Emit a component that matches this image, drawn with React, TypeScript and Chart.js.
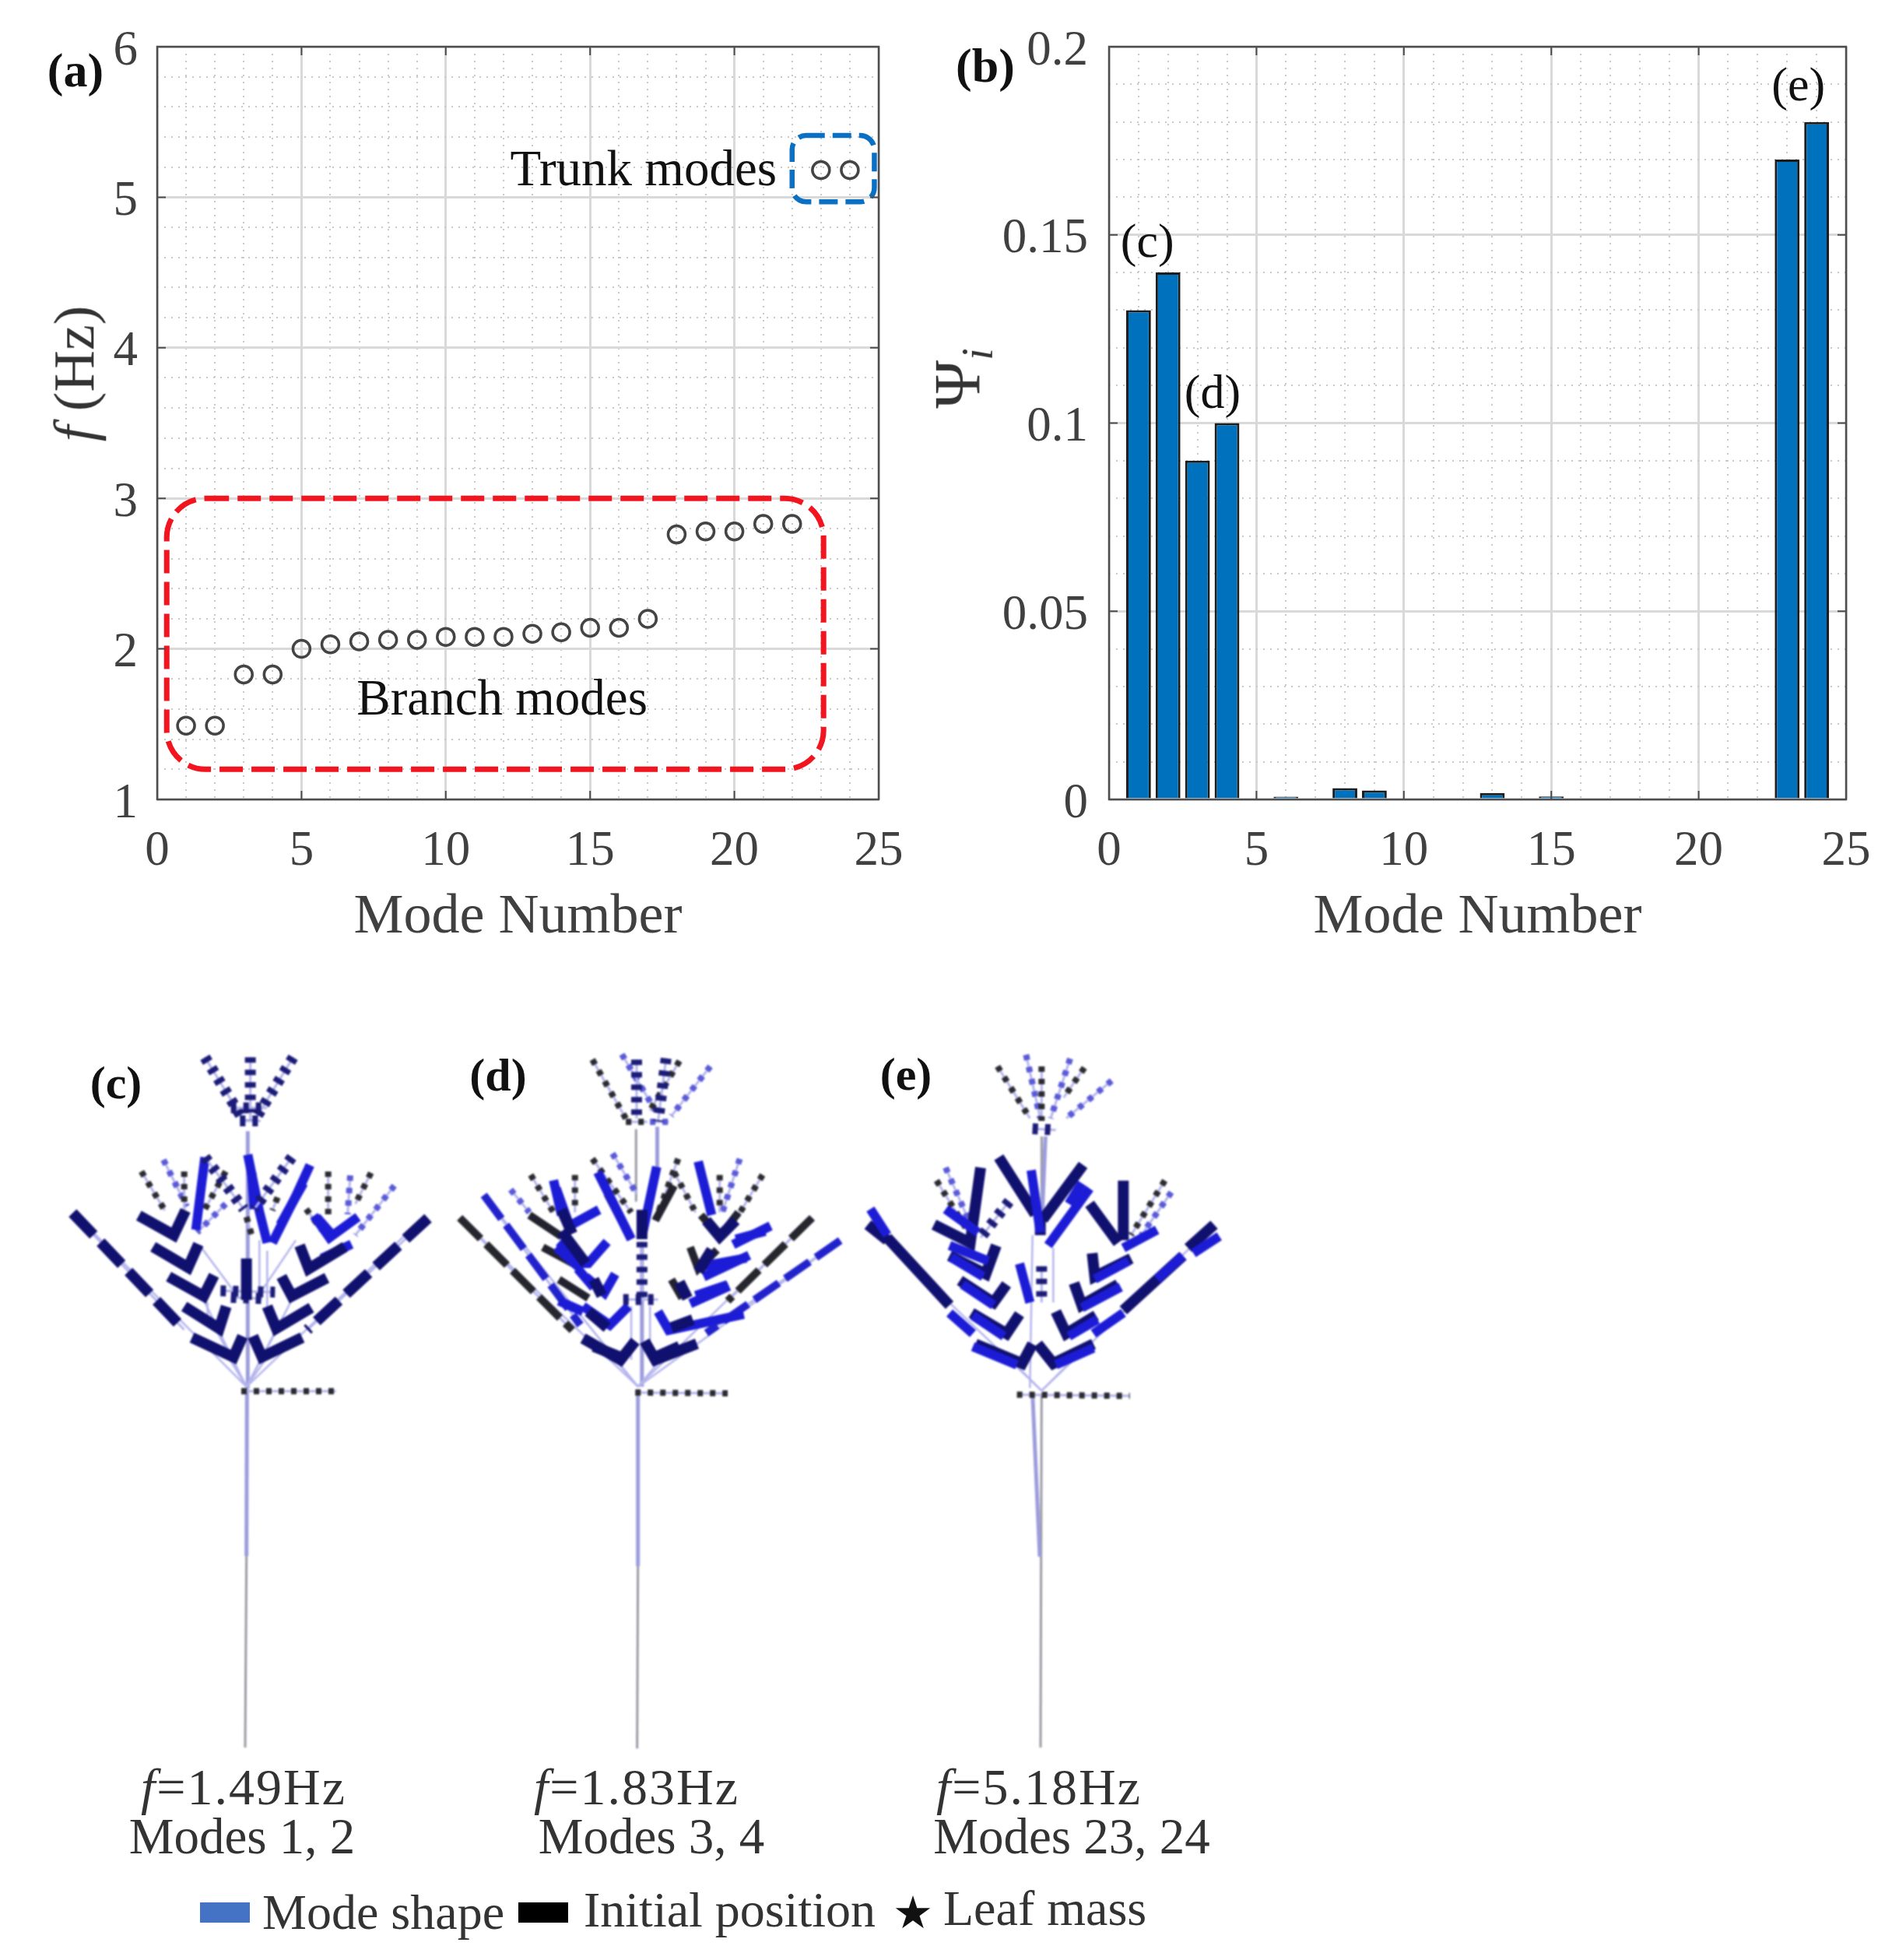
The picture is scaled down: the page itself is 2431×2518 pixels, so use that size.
import React, { useEffect, useRef } from "react";
import { Chart, registerables } from "chart.js";

Chart.register(...registerables);

// ---------- panel (a) data ----------
const modeNumbers = [1,2,3,4,5,6,7,8,9,10,11,12,13,14,15,16,17,18,19,20,21,22,23,24];
const frequencies = [1.49,1.49,1.83,1.83,2.0,2.03,2.05,2.06,2.06,2.08,2.08,2.08,2.10,2.11,2.14,2.14,2.20,2.76,2.78,2.78,2.83,2.83,5.18,5.18];
// ---------- panel (b) data ----------
const participation = [0.13,0.14,0.09,0.10,0,0.0007,0,0.003,0.0024,0,0,0,0.0017,0,0.0008,0,0,0,0,0,0,0,0.17,0.18];
const xMajorTicks = [0,5,10,15,20,25];
const yMajorTicksA = [1,2,3,4,5,6];
const yLabelsB: Record<string,string> = { "0":"0","5":"0.05","10":"0.1","15":"0.15","20":"0.2" };

// ---------- tree (c): polylines as x,y,x,y in crop units ----------
const treeCStems = [[770,1385,110,720],[770,1385,1450,735],[770,1385,700,1270],[770,1385,850,1270],[770,1385,650,1160],[770,1385,890,1160],[770,1385,600,1040],[770,1385,950,1040],[735,1035,590,840],[815,1035,960,820],[820,820,820,1040],[850,860,850,1100],[620,1060,620,1150]];
const treeCTrunk = [[775,400,775,1390],[772,1390,770,2037]];
const treeCTrunkLow = [[770,2037,765,2775]];
const treeCMain = [[100,715,530,1165],[1470,735,1005,1165]];
const treeCChevrons = [[560,1195,720,1270,755,1190],[530,1075,665,1160,692,1075],[470,960,605,1035,645,955],[410,845,545,925,585,835],[355,725,490,800,535,705],[985,1195,830,1270,795,1190],[1020,1080,885,1160,850,1075],[1080,965,945,1035,905,960],[1150,845,1010,930,975,840],[770,890,770,1050]];
const treeCBlue = [[775,490,820,710,850,830],[790,560,800,700],[1015,530,960,650,870,830],[990,600,900,760],[610,500,575,780],[1200,730,1090,810,1030,725],[1175,835,1060,890],[1040,730,1110,810]];
const treeCDotsNavy = [[610,115,760,360],[785,115,785,360],[950,115,800,360],[610,500,760,700],[945,500,800,700],[745,360,825,360],[710,310,850,310],[670,1015,880,1020],[710,1040,830,1045]];
const treeCDotsBlack = [[365,555,455,705],[530,555,530,700],[690,555,610,700],[1085,555,1085,720],[1250,560,1190,680],[890,655,870,705],[1000,700,1060,780],[770,730,790,800],[750,1402,1115,1402]];
const treeCDotsLilac = [[450,510,540,690],[690,680,580,790],[1340,610,1190,800],[1170,570,1160,720]];

// ---------- tree (d) ----------
const treeDStems = [[725,1340,60,710],[725,1340,1375,710],[725,1340,150,625],[725,1340,1480,795],[725,1340,640,1240],[725,1340,810,1240],[700,1040,700,1240],[770,1040,770,1240]];
const treeDTrunk = [[725,1350,725,2010],[797,370,797,550],[740,800,740,1340]];
const treeDTrunkLow = [[718,380,718,650],[725,2010,722,2690]];
const treeDBlackMain = [[60,710,480,1130],[1375,710,1060,1020]];
const treeDBlueMain = [[150,625,510,1110],[1480,795,980,1140]];
const treeDBlackThick = [[320,700,440,780],[370,820,500,890],[430,940,540,1010],[1100,690,1030,780,960,700],[920,820,950,900,1020,830],[850,940,890,1010],[610,620,700,790],[860,590,790,720]];
const treeDBlue = [[420,600,470,740,580,680],[410,570,440,700],[500,880,540,880,610,800],[530,930,600,990,640,920],[430,1020,520,1060],[520,1040,620,1110,690,1040],[1220,740,1080,810],[1140,850,970,930],[1065,965,920,1030],[1120,1070,840,1130,800,1060],[575,540,700,790],[795,520,740,780],[950,500,1000,700],[430,800,520,880],[420,820,510,900],[500,900,560,970],[940,1000,1060,960],[970,890,1130,860],[1090,790,1200,760]];
const treeDNavy = [[520,1160,660,1240,715,1170],[945,1180,790,1240,750,1170],[440,760,530,880],[980,720,1030,780,1090,720],[1000,830,950,910],[740,680,740,790],[560,940,590,1000],[880,950,910,1010],[540,1060,610,1120],[850,1120,930,1090],[440,680,480,770],[560,1190,660,1230],[880,1190,790,1230]];
const treeDDotsNavy = [[720,120,720,340],[830,115,800,350],[740,800,740,1020],[670,1015,800,1015]];
const treeDDotsBlack = [[555,120,680,340],[880,125,770,310],[325,550,410,690],[490,550,490,690],[555,490,700,690],[875,490,790,720],[1190,550,1100,700],[1030,550,1030,690],[860,540,940,690],[680,352,760,352],[715,1362,1060,1365]];
const treeDDotsLilac = [[665,100,790,310],[995,145,850,330],[250,605,320,690],[630,470,720,620],[1105,490,1040,690],[770,352,840,352]];

// ---------- tree (e) ----------
const treeEStems = [[745,1400,75,760],[745,1400,1410,760],[745,1400,640,1295],[745,1400,850,1295],[710,800,700,1390],[790,850,790,1060]];
const treeETrunk = [[760,420,745,780],[710,1410,738,2040]];
const treeETrunkLow = [[745,420,745,780],[745,1410,741,2775]];
const treeEBlackMain = [[75,760,150,820],[150,810,390,1070],[1410,760,1310,850],[1290,880,1060,1090]];
const treeEBlue = [[85,700,150,800],[390,1100,480,1180],[1430,805,1330,870],[1290,880,1190,970],[1060,1100,945,1180],[705,550,740,790],[660,910,700,1060],[1190,780,1060,850],[930,620,770,840],[375,700,500,790],[390,840,540,900],[395,885,520,960],[440,990,560,1070],[480,1110,600,1190],[480,1230,650,1300],[1050,1000,900,1080],[960,1125,850,1190],[945,1235,800,1300],[1080,900,950,970],[900,600,850,680]];
const treeENavy = [[490,1220,670,1295,710,1220],[945,1220,790,1295,730,1220],[475,1100,610,1180,660,1105],[955,1110,840,1180,800,1095],[430,975,560,1060,610,990],[1040,990,900,1070,870,985],[390,880,530,950,570,840],[1090,890,950,960,940,870],[330,760,470,830,510,540],[1060,590,1060,820],[930,680,1040,830],[580,500,720,720],[905,530,750,740],[740,720,740,800]];
const treeEDotsNavy = [[620,670,510,810],[745,920,745,1060],[710,390,800,395]];
const treeEDotsBlack = [[340,590,470,800],[1220,590,1090,800],[575,150,700,350],[745,150,745,360],[910,155,830,270],[650,1415,1085,1420]];
const treeEDotsLilac = [[375,540,480,780],[1245,635,1130,800],[685,105,740,350],[855,120,780,350],[1015,205,840,350]];

// ---------- text ----------
const captions = [
  { f: "=1.49Hz", modes: "Modes 1, 2", fx: 313, mx: 311 },
  { f: "=1.83Hz", modes: "Modes 3, 4", fx: 818, mx: 837 },
  { f: "=5.18Hz", modes: "Modes 23, 24", fx: 1335, mx: 1377 },
];
const legendItems = [
  { text: "Mode shape", left: 337, colour: "#4472c4", swatch: 257, top: 2420 },
  { text: "Initial position", left: 750, colour: "#000000", swatch: 666, top: 2417 },
];

// ---------- styles ----------
const LILAC = "#b4b4ee";
const NAVY = "#10106e";
const STY = {
  stem: { c: LILAC, w: 2.5 },
  trunk: { c: "#9c9cdc", w: 5 },
  trunkLow: { c: "#9a9aa6", w: 3 },
  main: { c: NAVY, w: 14, d: [39, 13] },
  blackMain: { c: "#26262e", w: 10, d: [38, 10] },
  blueMain: { c: "#2222cc", w: 10, d: [38, 10] },
  blackThick: { c: "#22222e", w: 10 },
  navy: { c: NAVY, w: 14 },
  blue: { c: "#1c1cd6", w: 12 },
  dotsNavy: { c: "#1b1b78", w: 14, d: [7, 9] },
  dotsBlack: { c: "#2a2a30", w: 8, d: [7, 9] },
  dotsLilac: { c: "#5a5ad8", w: 8, d: [7, 9] },
};

type Layer = [number[][], { c: string; w: number; d?: number[] }];

function layerDatasets(layers: Layer[]) {
  const out: any[] = [];
  for (const [lines, s] of layers) {
    for (const line of lines) {
      const pts: { x: number; y: number }[] = [];
      for (let i = 0; i < line.length; i += 2) pts.push({ x: line[i], y: line[i + 1] });
      if (s.d) out.push({ data: pts.slice(), borderColor: LILAC, borderWidth: 3, pointRadius: 0, tension: 0 });
      out.push({ data: pts, borderColor: s.c, borderWidth: s.w, borderDash: s.d || [], pointRadius: 0, tension: 0, borderCapStyle: "butt" });
    }
  }
  // Chart.js paints the first dataset last, so the list is turned round to keep layer order.
  return out.reverse();
}

const treeLayersC: Layer[] = [[treeCTrunkLow, STY.trunkLow],[treeCTrunk, STY.trunk],[treeCStems, STY.stem],[treeCDotsLilac, STY.dotsLilac],[treeCDotsBlack, STY.dotsBlack],[treeCBlue, STY.blue],[treeCDotsNavy, STY.dotsNavy],[treeCMain, STY.main],[treeCChevrons, STY.navy]];
const treeLayersD: Layer[] = [[treeDTrunkLow, STY.trunkLow],[treeDTrunk, STY.trunk],[treeDStems, STY.stem],[treeDBlackMain, STY.blackMain],[treeDBlueMain, STY.blueMain],[treeDDotsLilac, STY.dotsLilac],[treeDDotsBlack, STY.dotsBlack],[treeDBlackThick, STY.blackThick],[treeDBlue, STY.blue],[treeDDotsNavy, STY.dotsNavy],[treeDNavy, STY.navy]];
const treeLayersE: Layer[] = [[treeETrunkLow, STY.trunkLow],[treeETrunk, STY.trunk],[treeEStems, STY.stem],[treeEDotsLilac, STY.dotsLilac],[treeEDotsBlack, STY.dotsBlack],[treeEBlackMain, STY.navy],[treeENavy, STY.navy],[treeEBlue, STY.blue],[treeEDotsNavy, STY.dotsNavy]];

const SERIF = '"Liberation Serif", serif';
const TICK_COLOR = "#404040";
const TICK_FONT = { family: SERIF, size: 63, lineHeight: 1 };
const Y_LABEL_SHIFT = 6;
const X_LABEL_SHIFT = 16;

const framePlugin = {
  id: "frame",
  beforeDraw(chart: any) {
    const sy = chart.scales.y, sx = chart.scales.x;
    if (sy.__labelsShifted) return;
    sy.__labelsShifted = true;
    for (const item of sy.getLabelItems(chart.chartArea)) item.options.translation[1] += Y_LABEL_SHIFT;
    for (const item of sx.getLabelItems(chart.chartArea)) item.options.translation[1] += X_LABEL_SHIFT;
  },
  afterDatasetsDraw(chart: any, _a: any, opts: any) {
    const { ctx, chartArea: ca, scales } = chart;
    ctx.save();
    for (const b of opts.boxes || []) {
      const x0 = scales.x.getPixelForValue(b.x0), x1 = scales.x.getPixelForValue(b.x1);
      const y0 = scales.y.getPixelForValue(b.y0), y1 = scales.y.getPixelForValue(b.y1);
      ctx.beginPath();
      ctx.setLineDash(b.dash);
      ctx.strokeStyle = b.color;
      ctx.lineWidth = b.width;
      ctx.roundRect(x0, y0, x1 - x0, y1 - y0, b.radius);
      ctx.stroke();
    }
    ctx.setLineDash([]);
    ctx.strokeStyle = "#4d4d4d";
    ctx.lineWidth = 2;
    ctx.beginPath();
    for (const v of opts.xMajor) {
      const p = scales.x.getPixelForValue(v);
      ctx.moveTo(p, ca.bottom); ctx.lineTo(p, ca.bottom - 11);
      ctx.moveTo(p, ca.top); ctx.lineTo(p, ca.top + 11);
    }
    for (const v of opts.yMajor) {
      const p = scales.y.getPixelForValue(v);
      ctx.moveTo(ca.left, p); ctx.lineTo(ca.left + 11, p);
      ctx.moveTo(ca.right, p); ctx.lineTo(ca.right - 11, p);
    }
    ctx.stroke();
    ctx.lineWidth = 2.5;
    ctx.strokeRect(ca.left, ca.top, ca.right - ca.left, ca.bottom - ca.top);
    for (const n of opts.notes || []) {
      ctx.font = `${n.size}px ${SERIF}`;
      ctx.fillStyle = n.color || "#111";
      ctx.textAlign = "center";
      ctx.textBaseline = "middle";
      ctx.fillText(n.text, scales.x.getPixelForValue(n.x), scales.y.getPixelForValue(n.y));
    }
    ctx.restore();
  },
};

function gridFor(isMajor: (v: number) => boolean) {
  return {
    drawTicks: false,
    color: (c: any) => (isMajor(c.tick?.value) ? "#d9d9d9" : "#c9c9c9"),
    lineWidth: (c: any) => (isMajor(c.tick?.value) ? 3 : 2),
  };
}
function borderFor(isMajor: (v: number) => boolean) {
  return {
    display: false,
    dash: (c: any) => (isMajor(c.tick?.value) ? [] : [2, 7]),
  };
}

function xAxis() {
  const isMajor = (v: number) => xMajorTicks.includes(Math.round(v));
  return {
    type: "linear" as const,
    min: 0,
    max: 25,
    offset: false,
    grid: { ...gridFor(isMajor), offset: false },
    border: borderFor(isMajor),
    title: {
      display: true,
      text: "Mode Number",
      font: { family: SERIF, size: 72 },
      color: TICK_COLOR,
      padding: { top: 0, bottom: 28 },
    },
    ticks: {
      stepSize: 1,
      autoSkip: false,
      maxRotation: 0,
      padding: 20,
      color: TICK_COLOR,
      font: TICK_FONT,
      callback: (v: any) => (xMajorTicks.includes(v) ? String(v) : ""),
    },
    afterFit(s: any) { s.height = 223; },
  };
}

function useChart(ref: any, make: () => any) {
  useEffect(() => {
    const chart = new Chart(ref.current, make());
    return () => chart.destroy();
  }, []);
}

function Tree({ left, width, layers, xMax, yMax, height }: any) {
  const ref = useRef<HTMLCanvasElement>(null);
  useChart(ref, () => ({
    type: "line",
    data: { datasets: layerDatasets(layers) },
    options: {
      animation: false,
      responsive: false,
      devicePixelRatio: 1,
      layout: { padding: 0 },
      plugins: { legend: { display: false }, tooltip: { enabled: false } },
      scales: {
        x: { type: "linear", display: false, min: 0, max: xMax },
        y: { type: "linear", display: false, min: 0, max: yMax, reverse: true },
      },
    },
  }));
  return (
    <canvas ref={ref} width={width} height={height}
      style={{ position: "absolute", left, top: 1320, width, height, display: "block", filter: "blur(1.2px)" }} />
  );
}

function Txt({ x, y, size, children, bold, color, rotate }: any) {
  return (
    <div style={{
      position: "absolute", left: x, top: y, whiteSpace: "nowrap",
      transform: `translate(-50%,-50%)${rotate ? ` rotate(${rotate}deg)` : ""}`,
      font: `${bold ? "bold " : ""}${size}px ${SERIF}`, lineHeight: 1.1, color: color || "#333",
    }}>{children}</div>
  );
}

export default function App() {
  const aRef = useRef<HTMLCanvasElement>(null);
  const bRef = useRef<HTMLCanvasElement>(null);

  useChart(aRef, () => {
    const isMajorY = (v: number) => Math.abs(v - Math.round(v)) < 1e-6;
    return {
      type: "scatter",
      plugins: [framePlugin],
      data: {
        datasets: [{
          data: modeNumbers.map((m, i) => ({ x: m, y: frequencies[i] })),
          pointRadius: 11,
          pointBackgroundColor: "rgba(0,0,0,0)",
          pointBorderColor: "#444444",
          pointBorderWidth: 3.5,
          showLine: false,
        }],
      },
      options: {
        animation: false,
        responsive: false,
        devicePixelRatio: 1,
        layout: { padding: { top: 60, right: 71, left: 0, bottom: 0 } },
        scales: {
          x: xAxis(),
          y: {
            type: "linear", min: 1, max: 6,
            grid: gridFor(isMajorY),
            border: borderFor(isMajorY),
            ticks: {
              stepSize: 0.2, autoSkip: false, padding: 25, color: TICK_COLOR,
              font: TICK_FONT,
              callback: (v: any) => (isMajorY(v) ? String(Math.round(v)) : ""),
            },
            afterFit(s: any) { s.width = 202; },
          },
        },
        plugins: {
          legend: { display: false },
          tooltip: { enabled: false },
          frame: {
            xMajor: xMajorTicks,
            yMajor: yMajorTicksA,
            boxes: [
              { x0: 0.33, x1: 23.09, y0: 3.0, y1: 1.2, color: "#f2141e", width: 7, dash: [30, 11], radius: 50 },
              { x0: 22.0, x1: 24.85, y0: 5.41, y1: 4.97, color: "#0a70c4", width: 6.5, dash: [24, 10], radius: 18 },
            ],
            notes: [
              { text: "Trunk modes", x: 16.85, y: 5.17, size: 65 },
              { text: "Branch modes", x: 11.95, y: 1.65, size: 65 },
            ],
          },
        },
      },
    };
  });

  useChart(bRef, () => {
    const isMajorY = (v: number) => Math.round(v * 100) % 5 === 0;
    return {
      type: "bar",
      plugins: [framePlugin],
      data: {
        datasets: [{
          data: modeNumbers.map((m, i) => ({ x: m, y: participation[i] })),
          backgroundColor: "#0072bd",
          borderColor: "#1c1c1c",
          borderWidth: 3,
          barPercentage: 0.84,
          categoryPercentage: 1,
        }],
      },
      options: {
        animation: false,
        responsive: false,
        devicePixelRatio: 1,
        layout: { padding: { top: 60, right: 59, left: 0, bottom: 0 } },
        scales: {
          x: xAxis(),
          y: {
            type: "linear", min: 0, max: 0.2,
            grid: gridFor(isMajorY),
            border: borderFor(isMajorY),
            ticks: {
              stepSize: 0.01, autoSkip: false, padding: 27, color: TICK_COLOR,
              font: TICK_FONT,
              callback: (v: any) => yLabelsB[String(Math.round(v * 100))] ?? "",
            },
            afterFit(s: any) { s.width = 245; },
          },
        },
        plugins: {
          legend: { display: false },
          tooltip: { enabled: false },
          frame: {
            xMajor: xMajorTicks,
            yMajor: [0, 0.05, 0.1, 0.15, 0.2],
            notes: [
              { text: "(c)", x: 1.3, y: 0.1475, size: 62 },
              { text: "(d)", x: 3.51, y: 0.1075, size: 62 },
              { text: "(e)", x: 23.38, y: 0.189, size: 62 },
            ],
          },
        },
      },
    };
  });

  return (
    <div style={{ position: "absolute", left: 0, top: 0, width: 2431, height: 2518, background: "#fff", overflow: "hidden", filter: "blur(0.7px)" }}>
      <canvas ref={aRef} width={1200} height={1250} style={{ position: "absolute", left: 0, top: 0, display: "block" }} />
      <canvas ref={bRef} width={1251} height={1250} style={{ position: "absolute", left: 1180, top: 0, display: "block" }} />

      <Txt x={97} y={90} size={62} bold color="#111">(a)</Txt>
      <Txt x={1266} y={84} size={62} bold color="#111">(b)</Txt>
      <Txt x={96} y={480} size={74} rotate={-90}><i>f</i> (Hz)</Txt>
      <Txt x={1231} y={486} size={84} rotate={-90}>Ψ<i style={{ fontSize: 56, position: "relative", top: 16 }}>i</i></Txt>

      <Tree left={60} width={520} height={940} xMax={1560} yMax={2820} layers={treeLayersC} />
      <Tree left={570} width={540} height={940} xMax={1568} yMax={2730} layers={treeLayersD} />
      <Tree left={1090} width={500} height={940} xMax={1500} yMax={2820} layers={treeLayersE} />

      <Txt x={149} y={1391} size={60} bold color="#111">(c)</Txt>
      <Txt x={640} y={1381} size={60} bold color="#111">(d)</Txt>
      <Txt x={1164} y={1380} size={60} bold color="#111">(e)</Txt>

      {captions.map((c) => (
        <React.Fragment key={c.modes}>
          <Txt x={c.fx} y={2296} size={66}><span style={{ letterSpacing: 2 }}><i>f</i>{c.f}</span></Txt>
          <Txt x={c.mx} y={2360} size={65}>{c.modes}</Txt>
        </React.Fragment>
      ))}
      {legendItems.map((l) => (
        <React.Fragment key={l.text}>
          <div style={{ position: "absolute", left: l.swatch, top: 2444, width: 64, height: 26, background: l.colour }} />
          <div style={{ position: "absolute", left: l.left, top: l.top, font: `64px ${SERIF}`, lineHeight: "74px", color: "#333", whiteSpace: "nowrap" }}>{l.text}</div>
        </React.Fragment>
      ))}
      <div style={{ position: "absolute", left: 1147, top: 2424, font: `58px "DejaVu Sans"`, lineHeight: "66px", color: "#111" }}>★</div>
      <div style={{ position: "absolute", left: 1212, top: 2415, font: `64px ${SERIF}`, lineHeight: "74px", color: "#333", whiteSpace: "nowrap" }}>Leaf mass</div>
    </div>
  );
}
